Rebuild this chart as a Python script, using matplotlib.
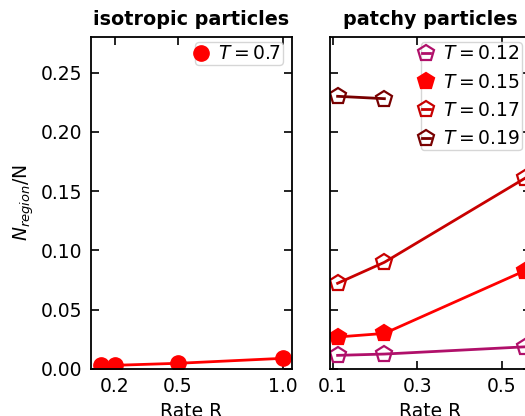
"""
Fraction of particles in the region vs rate R, isotropic vs patchy
"""

import matplotlib.pyplot as plt

plt.rcParams["font.size"] = 13.5
plt.rcParams["axes.linewidth"] = 1.3

# isotropic particles, T = 0.7
iso_rate = [0.133, 0.2, 0.5, 1.0]
iso_frac = [0.0034, 0.0031, 0.0048, 0.0090]

# patchy particles, one curve per temperature
patchy_rate = [0.111, 0.222, 0.556]
patchy_temps = ["0.12", "0.15", "0.17", "0.19"]
patchy_frac = [
    [0.0115, 0.0126, 0.0187],
    [0.0270, 0.0300, 0.0830],
    [0.0723, 0.0900, 0.1610],
    [0.2300, 0.2280],
]
patchy_colours = ["#b0106a", "#ff0000", "#c80000", "#780000"]
patchy_filled = [False, True, False, False]

fig = plt.figure(figsize=(5.25, 4.16), dpi=100)
ax_iso = fig.add_axes([0.1733, 0.113, 0.383, 0.798])
ax_pat = fig.add_axes([0.6286, 0.113, 0.383, 0.798])

ax_iso.plot(iso_rate, iso_frac, "-", color="red", lw=2)
ax_iso.plot(iso_rate, iso_frac, "o", color="red", ms=11, label=r"$T=0.7$")
ax_iso.set_title("isotropic particles", fontweight="bold", fontsize=13.8, pad=9)
ax_iso.set_xlim(0.087, 1.043)
ax_iso.set_xticks([0.2, 0.5, 1.0])
ax_iso.set_xticklabels(["0.2", "0.5", "1.0"])
ax_iso.set_ylabel(r"$N_{region}$/N", labelpad=4)
ax_iso.set_xlabel("Rate R", labelpad=4)

for temp, frac, col, filled in zip(patchy_temps, patchy_frac, patchy_colours, patchy_filled):
    rate = patchy_rate[: len(frac)]
    ax_pat.plot(
        rate,
        frac,
        "p-",
        color=col,
        lw=2,
        ms=12,
        mew=1.6,
        mfc=col if filled else "none",
        label=rf"$T={temp}$",
    )
ax_pat.set_title("patchy particles", fontweight="bold", fontsize=13.8, pad=9)
ax_pat.set_xlim(0.093, 0.57)
ax_pat.set_xticks([0.1, 0.3, 0.5])
ax_pat.set_xticklabels(["0.1", "0.3", "0.5"])
ax_pat.set_yticklabels([])
ax_pat.set_xlabel("Rate R", labelpad=4)

for ax in (ax_iso, ax_pat):
    ax.set_ylim(0, 0.28)
    ax.set_yticks([0.0, 0.05, 0.10, 0.15, 0.20, 0.25])
    ax.tick_params(direction="in", top=True, right=True, length=6, width=1.2, pad=6)
    ax.legend(
        loc="upper right",
        bbox_to_anchor=(1.0, 1.012),
        handlelength=0.4,
        borderpad=0.1,
        handletextpad=0.7,
        labelspacing=0.5,
        borderaxespad=0.5,
    )

ax_iso.set_yticklabels(["0.00", "0.05", "0.10", "0.15", "0.20", "0.25"])

fig.savefig("out.png", dpi=100)
